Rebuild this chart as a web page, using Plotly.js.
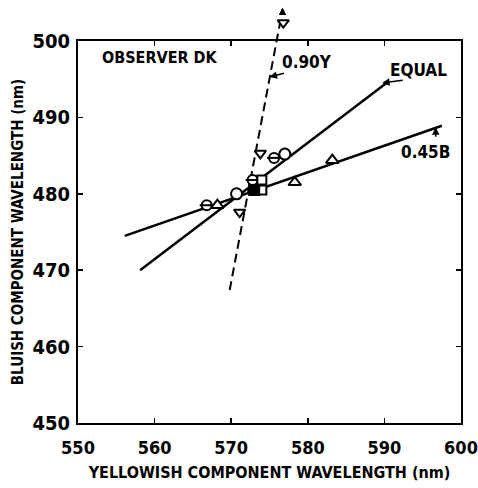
<!DOCTYPE html>
<html><head><meta charset="utf-8">
<script src="https://cdn.plot.ly/plotly-3.0.1.min.js"></script>
<style>html,body{margin:0;padding:0;background:#fff}#chart{width:478px;height:488px}</style>
</head><body><div id="chart"></div>
<script>
// Fitted lines (endpoints)
const equalX = [558.1, 590.4];
const equalY = [470.0, 494.6];
const b045X = [556.1, 597.5];
const b045Y = [474.5, 488.9];
const y090X = [569.8, 576.7];
const y090Y = [467.4, 504.1];

// Data points by symbol
const barCircX = [566.8, 575.6, 572.8];
const barCircY = [478.5, 484.7, 481.8];
const circX = [570.7, 577.0];
const circY = [480.0, 485.2];
const triX = [568.2, 578.3, 583.2];
const triY = [478.5, 481.5, 484.4];
const sqX = [574.0, 574.0];
const sqY = [481.8, 480.5];
const fillSqX = [573.0];
const fillSqY = [480.5];
const invTriX = [571.1, 573.8, 576.8];
const invTriY = [477.6, 485.3, 502.4];

const xTicks = [550, 560, 570, 580, 590, 600];
const yTicks = [450, 460, 470, 480, 490, 500];
const yRange = [450, 500];

// geometry of the page
const W = 478, H = 488, mL = 78, mR = 17, mT = 3, mB = 65, plotTop = 41;
const paperH = H - mT - mB;
const mainFrac = (H - mB - plotTop) / paperH;
const pxPerUnit = (H - mB - plotTop) / (yRange[1] - yRange[0]);
const yTopRange = [yRange[1], yRange[1] + (plotTop - mT) / pxPerUnit];

const FONT = '"DejaVu Sans Condensed", "Liberation Sans", Arial, sans-serif';
const mk = (sym, size, fill) => ({symbol: sym, size: size, color: fill || 'white', line: {color: 'black', width: 2}});

const traces = [
  {x: equalX, y: equalY, mode: 'lines', line: {color: 'black', width: 2.5}},
  {x: b045X, y: b045Y, mode: 'lines', line: {color: 'black', width: 2.5}},
  {x: y090X, y: y090Y, mode: 'lines', line: {color: 'black', width: 2, dash: '9px,5px'}},
  {x: y090X, y: y090Y, mode: 'lines', line: {color: 'black', width: 2, dash: '9px,5px'}, xaxis: 'x2', yaxis: 'y2'},
  {x: barCircX, y: barCircY, mode: 'markers', marker: mk('circle', 10)},
  {x: barCircX, y: barCircY, mode: 'markers', marker: {symbol: 'line-ew', size: 10, line: {color: 'black', width: 2}}},
  {x: circX, y: circY, mode: 'markers', marker: mk('circle', 11)},
  {x: triX, y: triY, mode: 'markers', marker: mk('triangle-up', 11)},
  {x: sqX, y: sqY, mode: 'markers', marker: mk('square', 9)},
  {x: fillSqX, y: fillSqY, mode: 'markers', marker: mk('square', 10, 'black')},
  {x: invTriX, y: invTriY, mode: 'markers', marker: mk('triangle-down', 10)},
  {x: invTriX, y: invTriY, mode: 'markers', marker: mk('triangle-down', 10), xaxis: 'x2', yaxis: 'y2'}
];

const axBase = {
  showgrid: false, zeroline: false, showline: true, linecolor: 'black', linewidth: 2,
  mirror: 'ticks', ticks: 'inside', ticklen: 5, tickwidth: 1.5, tickcolor: 'black',
  tickfont: {family: FONT, size: 18, color: 'black', weight: 'bold'}
};
const titleFont = (s) => ({family: FONT, size: s, color: 'black', weight: 'bold'});
const annFont = {family: FONT, size: 17, color: 'black', weight: 'bold'};
const arrow = {showarrow: true, text: '', arrowhead: 2, arrowsize: 1, arrowwidth: 1.5, arrowcolor: 'black'};

const layout = {
  width: W, height: H,
  margin: {l: mL, r: mR, t: mT, b: mB},
  paper_bgcolor: 'white', plot_bgcolor: 'rgba(0,0,0,0)',
  showlegend: false,
  xaxis: Object.assign({}, axBase, {range: [550, 600], tickvals: xTicks, ticklabelstandoff: 7,
    title: {text: 'YELLOWISH COMPONENT WAVELENGTH (nm)', font: titleFont(16), standoff: 10}}),
  yaxis: Object.assign({}, axBase, {range: yRange, tickvals: yTicks, domain: [0, mainFrac],
    tickfont: {family: FONT, size: 20, color: 'black', weight: 'bold'}, ticklabelstandoff: 2,
    title: {text: 'BLUISH COMPONENT WAVELENGTH (nm)', font: titleFont(15), standoff: 5}}),
  xaxis2: {range: [550, 600], anchor: 'y2', visible: false, showgrid: false, zeroline: false},
  yaxis2: {range: yTopRange, domain: [mainFrac, 1], anchor: 'x2', visible: false, showgrid: false, zeroline: false},
  annotations: [
    {x: 552.9, y: 497.8, xref: 'x', yref: 'y', text: 'OBSERVER DK', showarrow: false, xanchor: 'left', font: Object.assign({}, annFont, {size: 16})},
    {x: 579.9, y: 497.3, xref: 'x', yref: 'y', text: '0.90Y', showarrow: false, font: annFont},
    {x: 594.5, y: 496.2, xref: 'x', yref: 'y', text: 'EQUAL', showarrow: false, font: annFont},
    {x: 595.3, y: 485.5, xref: 'x', yref: 'y', text: '0.45B', showarrow: false, font: annFont},
    Object.assign({x: 575.0, y: 495.3, xref: 'x', yref: 'y', ax: 16, ay: -4}, arrow),
    Object.assign({x: 589.7, y: 494.5, xref: 'x', yref: 'y', ax: 22, ay: -3}, arrow),
    Object.assign({x: 596.7, y: 488.7, xref: 'x', yref: 'y', ax: 0, ay: 11}, arrow),
    Object.assign({x: 576.7, y: 504.4, xref: 'x2', yref: 'y2', ax: 0, ay: 9}, arrow)
  ]
};

Plotly.newPlot('chart', traces, layout, {staticPlot: true});
</script>
</body></html>
